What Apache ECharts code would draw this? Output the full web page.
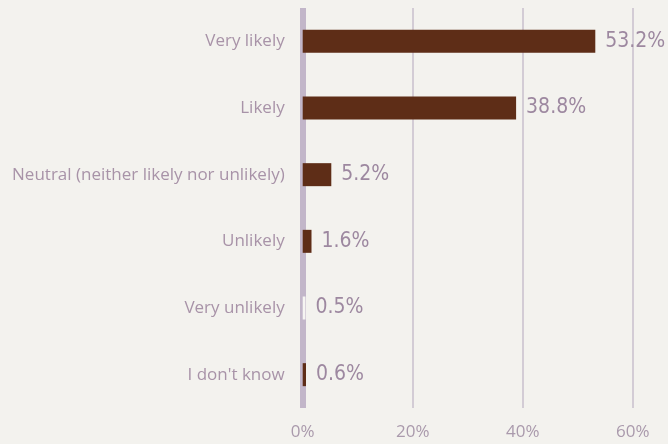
<!DOCTYPE html>
<html><head><meta charset="utf-8">
<script src="https://cdn.jsdelivr.net/npm/echarts@6/dist/echarts.min.js"></script>
<style>html,body{margin:0;padding:0;background:#f3f2ee;}#c{width:668px;height:444px;}</style>
</head><body><div id="c"></div>
<script>
var categories = ["Very likely","Likely","Neutral (neither likely nor unlikely)","Unlikely","Very unlikely","I don't know"];
var values = [53.2, 38.8, 5.2, 1.6, 0.5, 0.6];
var tickLabels = ["0%","20%","40%","60%"];

var chart = echarts.init(document.getElementById('c'));
var data = values.map(function(v, i){
  return {value: v, itemStyle: {color: i === 4 ? '#f6f5f2' : '#5e2d17'}};
});
chart.setOption({
  backgroundColor: '#f3f2ee',
  animation: false,
  grid: {left: 302.7, right: 35.3, top: 8, bottom: 36},
  xAxis: {
    type: 'value', min: 0, max: 60, interval: 20,
    axisLine: {show: false}, axisTick: {show: false},
    splitLine: {show: true, lineStyle: {color: '#c9bfcd', width: 1.5}},
    axisLabel: {
      color: '#aa9aac', fontFamily: 'Open Sans', fontSize: 17, margin: 16,
      formatter: function(v){ return tickLabels[Math.round(v/20)]; }
    }
  },
  yAxis: {
    type: 'category', inverse: true, data: categories,
    axisLine: {show: true, lineStyle: {color: '#c2b6c9', width: 6, cap: 'butt'}},
    axisTick: {show: false},
    axisLabel: {color: '#a893a8', fontFamily: 'Open Sans', fontSize: 17, margin: 18}
  },
  series: [{
    type: 'bar', data: data, barWidth: 23,
    label: {
      show: true, position: 'right', distance: 10,
      color: '#9d88a0', fontFamily: '"DejaVu Sans Condensed", "Roboto", sans-serif', fontSize: 21,
      formatter: function(p){ return p.value.toFixed(1) + '%'; }
    }
  }]
});
</script></body></html>
